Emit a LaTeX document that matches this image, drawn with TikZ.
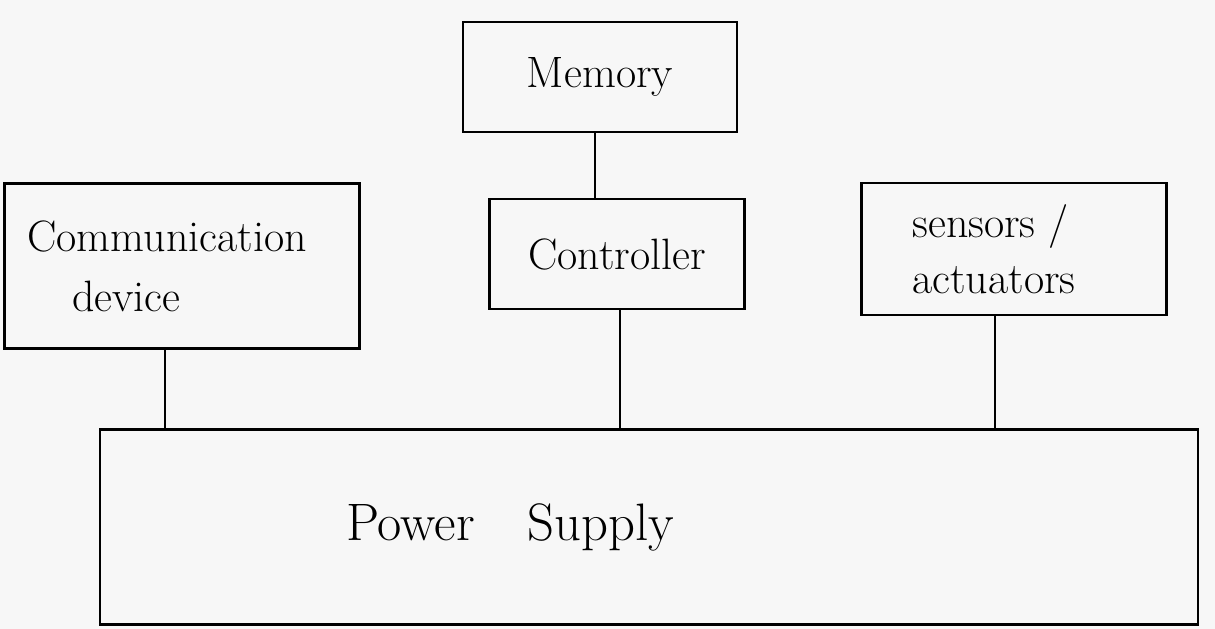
\documentclass[tikz,border=0pt]{standalone}
\usetikzlibrary{positioning}
\begin{document}
\begin{tikzpicture}[x=0.02cm,y=-0.02cm,
  blockbox/.style={draw=black, line width=1.5pt, inner sep=0pt, font=\fontsize{25}{32}\selectfont},
  wire/.style={draw=black, line width=1.4pt}]
  % page
  \fill[white!97!black] (0,0) rectangle (1215,629);
  \useasboundingbox (0,0) rectangle (1215,629);

  % blocks
  \node[blockbox, minimum width=274*0.02cm, minimum height=110*0.02cm] (mem) at (600,77) {Memory};
  \node[blockbox, minimum width=255*0.02cm, minimum height=110*0.02cm] (ctrl) at (617,254) {Controller};
  \node[blockbox, minimum width=355*0.02cm, minimum height=165*0.02cm, align=left] (comm) at (182,266) {Communication\hspace*{0.6cm}\\[2pt]\hspace*{0.9cm}device};
  \node[blockbox, minimum width=305*0.02cm, minimum height=132*0.02cm, align=left] (sens) at (1014,249) {sensors /\hspace*{0.8cm}\\actuators\hspace*{0.8cm}};
  \node[blockbox, minimum width=1098*0.02cm, minimum height=195*0.02cm] (ps) at (649,527) {};
  \node[font=\fontsize{30}{36}\selectfont, inner sep=0pt] (psl) at (510,527) {Power\quad Supply};

  % connections
  \draw[wire] ([xshift=-5*0.02cm]mem.south) -- ([xshift=-5*0.02cm]mem.south |- ctrl.north);
  \draw[wire] ([xshift=-17*0.02cm]comm.south) -- ([xshift=-17*0.02cm]comm.south |- ps.north);
  \draw[wire] ([xshift=3*0.02cm]ctrl.south) -- ([xshift=3*0.02cm]ctrl.south |- ps.north);
  \draw[wire] ([xshift=-19*0.02cm]sens.south) -- ([xshift=-19*0.02cm]sens.south |- ps.north);
\end{tikzpicture}
\end{document}
